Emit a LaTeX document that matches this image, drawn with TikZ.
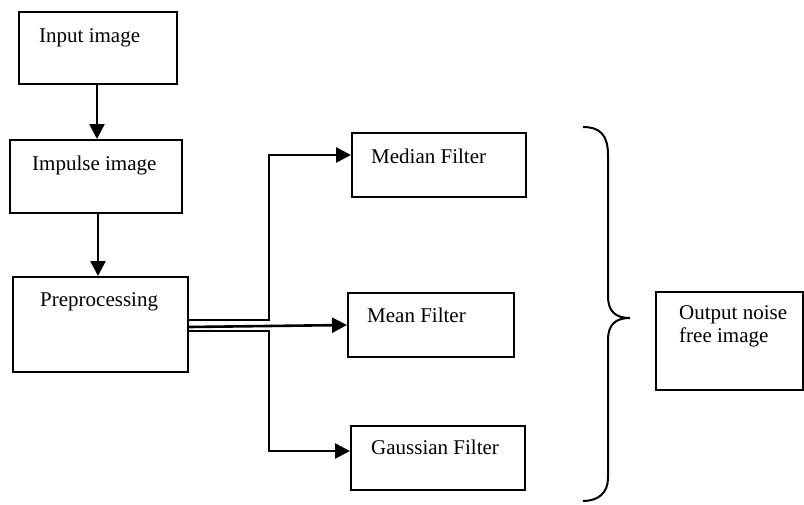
\documentclass[tikz,border=0pt]{standalone}
\usepackage{fontspec}
\setmainfont{Liberation Serif}
\usetikzlibrary{arrows.meta}
\begin{document}
\begin{tikzpicture}
[x=1pt,y=-1pt,
  boxdecorate/.style={draw,line width=2pt,inner sep=0pt,anchor=north west},%
  textdecorate/.style={anchor=base west,inner sep=0pt,align=left,
    font=\fontsize{21}{23}\selectfont},%
  arrowdecorate/.style={line width=2.6pt,-{Triangle[length=15pt,width=15pt]}}]
\useasboundingbox (0,0) rectangle (804,504);
%% boxes and their texts
\foreach \nodename/\l/\t/\r/\b/\tx/\ty/\txt in {input/18/11/176/83/39/42/{Input image},
  impulse/9/139/181/212/32/170/{Impulse image},
  pre/12/276/187/371/40/306/{Preprocessing},
  median/351/132/525/196/371/163/{Median Filter},
  mean/347/292/513/356/367/322/{Mean Filter},
  gauss/350/425/524/489/371/454/{Gaussian Filter},
  output/655/291/802/389/679/342/{Output noise\\free image}} {
  \node (\nodename) at (\l,\t) [boxdecorate,minimum width=\r pt-\l pt,
    minimum height=\b pt-\t pt] {};
  \node (\nodename-text) at (\tx,\ty) [textdecorate] {\txt};
}
%% arrows
\draw[arrowdecorate] ([xshift=-1pt]input.south) -- ([xshift=-1pt]input.south |- impulse.north);
\draw[arrowdecorate] ([xshift=2pt]impulse.south) -- ([xshift=2pt]impulse.south |- pre.north);
\draw[arrowdecorate] ([yshift=4.5pt]pre.east) -- ++(80,0) |- ([yshift=10pt]median.west);
\draw[arrowdecorate] ([yshift=-2.5pt]pre.east) -- (mean.west);
\draw[arrowdecorate] ([yshift=-6.5pt]pre.east) -- ++(80,0) |- ([yshift=7pt]gauss.west);
%% brace
\draw[line width=2pt] (583,127) .. controls (600,127) and (608,135) .. (608,155)
  -- (608,296) .. controls (608,311) and (615,318) .. (630,318)
  .. controls (615,318) and (608,325) .. (608,340)
  -- (608,478) .. controls (608,493) and (598,501) .. (583,501);
\end{tikzpicture}
\end{document}
